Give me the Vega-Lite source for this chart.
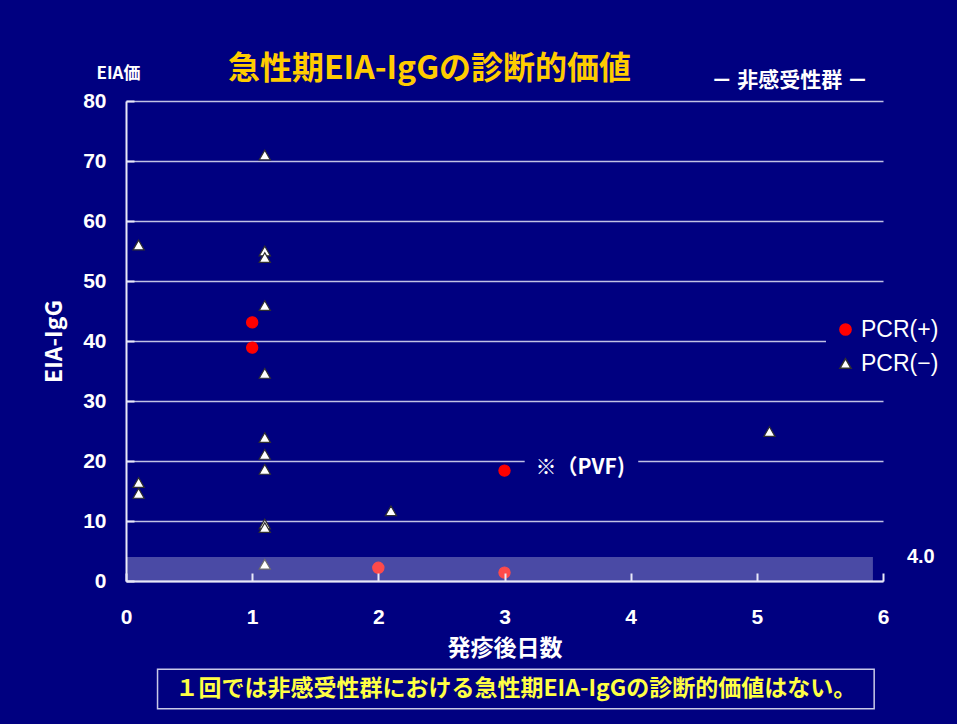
{
  "$schema": "https://vega.github.io/schema/vega-lite/v6.json",
  "width": 757,
  "height": 480,
  "autosize": {"type": "none"},
  "padding": {"left": 126, "top": 101, "right": 74, "bottom": 143},
  "background": "#000080",
  "title": {
    "text": "急性期EIA-IgGの診断的価値",
    "anchor": "middle",
    "frame": "group",
    "dx": -75,
    "dy": 5,
    "offset": -16,
    "font": "Noto Sans CJK JP",
    "fontSize": 32,
    "fontWeight": "bold",
    "color": "#ffcc00"
  },
  "config": {
    "view": {"stroke": null},
    "axis": {
      "labelFont": "Liberation Sans",
      "labelFontWeight": "bold",
      "labelFontSize": 21,
      "labelColor": "#ffffff",
      "titleFont": "Noto Sans CJK JP",
      "titleFontWeight": "bold",
      "titleFontSize": 23,
      "titleColor": "#ffffff",
      "domainColor": "#e8e8f8",
      "domainWidth": 2,
      "tickColor": "#e8e8f8",
      "tickWidth": 2
    }
  },
  "layer": [
    {
      "data": {
        "values": [
          {"day": 0.1, "igg": 56.0, "pcr": "PCR(−)"},
          {"day": 0.1, "igg": 16.4, "pcr": "PCR(−)"},
          {"day": 0.1, "igg": 14.6, "pcr": "PCR(−)"},
          {"day": 1.1, "igg": 71.0, "pcr": "PCR(−)"},
          {"day": 1.1, "igg": 55.0, "pcr": "PCR(−)"},
          {"day": 1.1, "igg": 53.9, "pcr": "PCR(−)"},
          {"day": 1.1, "igg": 45.9, "pcr": "PCR(−)"},
          {"day": 1.1, "igg": 34.6, "pcr": "PCR(−)"},
          {"day": 1.1, "igg": 23.9, "pcr": "PCR(−)"},
          {"day": 1.1, "igg": 21.1, "pcr": "PCR(−)"},
          {"day": 1.1, "igg": 18.6, "pcr": "PCR(−)"},
          {"day": 1.1, "igg": 9.5, "pcr": "PCR(−)"},
          {"day": 1.1, "igg": 8.9, "pcr": "PCR(−)"},
          {"day": 1.1, "igg": 2.8, "pcr": "PCR(−)"},
          {"day": 2.1, "igg": 11.7, "pcr": "PCR(−)"},
          {"day": 5.1, "igg": 24.9, "pcr": "PCR(−)"},
          {"day": 1.0, "igg": 43.1, "pcr": "PCR(+)"},
          {"day": 1.0, "igg": 38.9, "pcr": "PCR(+)"},
          {"day": 3.0, "igg": 18.4, "pcr": "PCR(+)"},
          {"day": 2.0, "igg": 2.2, "pcr": "PCR(+)"},
          {"day": 3.0, "igg": 1.4, "pcr": "PCR(+)"}
        ]
      },
      "mark": {"type": "point", "filled": true, "opacity": 1, "strokeWidth": 1.2, "size": 125},
      "encoding": {
        "x": {"field": "day", "type": "quantitative", "scale": {"domain": [0, 6], "nice": false, "zero": false},
          "axis": {"values": [0, 1, 2, 3, 4, 5, 6], "format": "d", "grid": false, "labelFlush": false, "tickSize": -8, "labelPadding": 33, "title": "発疹後日数", "titlePadding": 10, "zindex": 1}},
        "y": {"field": "igg", "type": "quantitative", "scale": {"domain": [0, 80], "nice": false, "zero": false},
          "axis": {"values": [0, 10, 20, 30, 40, 50, 60, 70, 80], "format": "d", "grid": true, "gridColor": "#c0c0e4", "gridWidth": 1.5, "labelFlush": false, "tickSize": -8, "labelPadding": 28, "title": "EIA-IgG", "titlePadding": 16}},
        "fill": {"field": "pcr", "type": "nominal",
          "scale": {"domain": ["PCR(+)", "PCR(−)"], "range": ["#ff0000", "#ffffff"]},
          "legend": {"orient": "none", "legendX": 700, "legendY": 209, "title": null,
            "fillColor": "#000080", "padding": 8, "rowPadding": 10, "symbolSize": 125,
            "labelFont": "Liberation Sans", "labelFontSize": 23, "labelColor": "#ffffff", "labelOffset": 4}},
        "stroke": {"field": "pcr", "type": "nominal",
          "scale": {"domain": ["PCR(+)", "PCR(−)"], "range": ["#ff0000", "#303030"]}},
        "shape": {"field": "pcr", "type": "nominal",
          "scale": {"domain": ["PCR(+)", "PCR(−)"], "range": ["circle", "triangle-up"]}}
      }
    },
    {
      "data": {"values": [{"gap": "PVF"}]},
      "mark": {"type": "rect", "fill": "#000080"},
      "encoding": {
        "x": {"datum": 3.16, "type": "quantitative"},
        "x2": {"datum": 4.06},
        "y": {"datum": 18.5, "type": "quantitative"},
        "y2": {"datum": 21.5}
      }
    },
    {
      "data": {"values": [{"lo": 0, "cutoff": 4.0}]},
      "mark": {"type": "rect", "fill": "#ffffff", "fillOpacity": 0.29},
      "encoding": {
        "x": {"datum": 0, "type": "quantitative"},
        "x2": {"datum": 5.92},
        "y": {"field": "lo", "type": "quantitative"},
        "y2": {"field": "cutoff"}
      }
    },
    {
      "data": {"values": [{"label": "4.0"}]},
      "mark": {"type": "text", "clip": false, "font": "Liberation Sans", "fontWeight": "bold", "fontSize": 20, "color": "#ffffff", "align": "center", "baseline": "middle"},
      "encoding": {
        "x": {"datum": 6.3, "type": "quantitative"},
        "y": {"datum": 4, "type": "quantitative"},
        "text": {"field": "label", "type": "nominal"}
      }
    },
    {
      "data": {"values": [{"label": "※（PVF)"}]},
      "mark": {"type": "text", "font": "Noto Sans CJK JP", "fontWeight": "bold", "fontSize": 21, "color": "#ffffff", "align": "center", "baseline": "middle"},
      "encoding": {
        "x": {"datum": 3.6, "type": "quantitative"},
        "y": {"datum": 18.8, "type": "quantitative"},
        "text": {"field": "label", "type": "nominal"}
      }
    },
    {
      "data": {"values": [{"label": "EIA価"}]},
      "mark": {"type": "text", "clip": false, "font": "Noto Sans CJK JP", "fontWeight": "bold", "fontSize": 17, "color": "#ffffff", "align": "center", "baseline": "middle"},
      "encoding": {
        "x": {"datum": -0.06, "type": "quantitative"},
        "y": {"datum": 84.5, "type": "quantitative"},
        "text": {"field": "label", "type": "nominal"}
      }
    },
    {
      "data": {"values": [{"label": "－  非感受性群  －"}]},
      "mark": {"type": "text", "clip": false, "font": "Noto Sans CJK JP", "fontWeight": "bold", "fontSize": 21, "color": "#ffffff", "align": "center", "baseline": "middle"},
      "encoding": {
        "x": {"datum": 5.26, "type": "quantitative"},
        "y": {"datum": 83.3, "type": "quantitative"},
        "text": {"field": "label", "type": "nominal"}
      }
    },
    {
      "data": {"values": [{"note": "box"}]},
      "mark": {"type": "rect", "clip": false, "fill": "#000080", "stroke": "#c8c8e8", "strokeWidth": 1.5},
      "encoding": {
        "x": {"datum": 0.25, "type": "quantitative"},
        "x2": {"datum": 5.93},
        "y": {"datum": -14.7, "type": "quantitative"},
        "y2": {"datum": -21.3}
      }
    },
    {
      "data": {"values": [{"label": "１回では非感受性群における急性期EIA-IgGの診断的価値はない。"}]},
      "mark": {"type": "text", "clip": false, "font": "Noto Sans CJK JP", "fontWeight": "bold", "fontSize": 23, "color": "#ffff44", "align": "center", "baseline": "middle"},
      "encoding": {
        "x": {"datum": 3.09, "type": "quantitative"},
        "y": {"datum": -18.0, "type": "quantitative"},
        "text": {"field": "label", "type": "nominal"}
      }
    }
  ]
}
